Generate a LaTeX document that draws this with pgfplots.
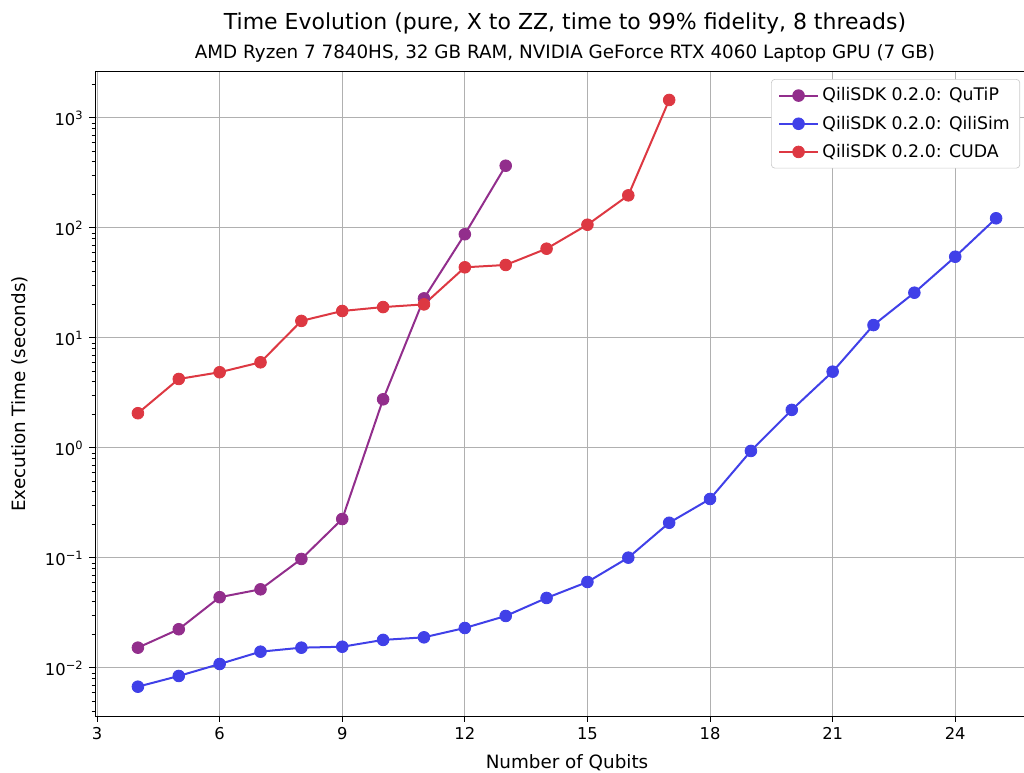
\documentclass[border=0pt]{standalone}
\usepackage{pgfplots}
\pgfplotsset{compat=1.18}
\usepackage{fontspec}
\setmainfont{DejaVu Sans}
\definecolor{cq}{RGB}{146,46,140}
\definecolor{cb}{RGB}{64,64,232}
\definecolor{cr}{RGB}{221,56,66}
\definecolor{gridc}{RGB}{176,176,176}
\definecolor{legc}{RGB}{204,204,204}

\begin{document}
\begin{tikzpicture}
\useasboundingbox (0,0) rectangle (614.4pt,463.2pt);
\begin{axis}[
  at={(57pt,33.6pt)}, anchor=south west,
  scale only axis, width=566.4pt, height=386.4pt,
  ymode=log,
  xmin=2.95, xmax=26.05, ymin=3.66e-3, ymax=2618,
  xtick={3,6,...,24},
  ytick={1e-2,1e-1,1,10,100,1000},
  yticklabels={10\textsuperscript{−2},10\textsuperscript{−1},10\textsuperscript{0},10\textsuperscript{1},10\textsuperscript{2},10\textsuperscript{3}},
  minor ytick={4e-3,5e-3,6e-3,7e-3,8e-3,9e-3,
    2e-2,3e-2,4e-2,5e-2,6e-2,7e-2,8e-2,9e-2,
    0.2,0.3,0.4,0.5,0.6,0.7,0.8,0.9,
    2,3,4,5,6,7,8,9,
    20,30,40,50,60,70,80,90,
    200,300,400,500,600,700,800,900,2000},
  grid=major,
  major grid style={gridc, line width=0.6pt},
  minor grid style={draw=none},
  tick align=outside, xtick pos=bottom, ytick pos=left,
  major tick length=3.4pt, minor tick length=2pt,
  every tick/.style={black, line width=0.6pt},
  axis line style={line width=0.6pt},
  ticklabel style={font=\fontsize{9.8}{11}\selectfont},
  /pgf/number format/assume math mode=true,
  xlabel={Number of Qubits},
  ylabel={Execution Time (seconds)},
  label style={font=\fontsize{11}{13}\selectfont},
  xlabel style={at={(axis description cs:0.5,-0.073)}, anchor=center},
  ylabel style={at={(axis description cs:-0.0795,0.5)}, anchor=center},
  legend style={at={(axis description cs:0.98,0.989)}, anchor=north east,
    draw=legc, rounded corners=2pt, fill=white,
    font=\fontsize{10.4}{12.5}\selectfont, row sep=3.5pt, inner xsep=4pt, inner ysep=3pt},
  legend cell align=left,
  legend image code/.code={\draw[mark repeat=2,mark phase=2] plot coordinates {(0pt,0pt)(11.7pt,0pt)(23.4pt,0pt)};},
  every axis plot/.append style={line width=1.2pt, mark=*, mark size=3.5pt, mark options={line width=0.5pt}},
]
\addplot[color=cq] coordinates {(4,0.0153)(5,0.0225)(6,0.0440)(7,0.0519)(8,0.098)(9,0.226)(10,2.77)(11,22.9)(12,87.7)(13,368)};
\addlegendentry{QiliSDK 0.2.0: QuTiP}
\addplot[color=cb] coordinates {(4,0.00676)(5,0.00846)(6,0.01087)(7,0.01407)(8,0.0153)(9,0.0156)(10,0.0180)(11,0.0190)(12,0.0231)(13,0.0297)(14,0.0433)(15,0.0605)(16,0.1007)(17,0.209)(18,0.344)(19,0.94)(20,2.22)(21,4.94)(22,13.1)(23,25.8)(24,54.8)(25,122.5)};
\addlegendentry{QiliSDK 0.2.0: QiliSim}
\addplot[color=cr] coordinates {(4,2.07)(5,4.24)(6,4.88)(7,6.01)(8,14.3)(9,17.6)(10,19.1)(11,20.2)(12,43.9)(13,46.1)(14,64.8)(15,107)(16,198)(17,1458)};
\addlegendentry{QiliSDK 0.2.0: CUDA}
\end{axis}
\node[font=\fontsize{13.2}{15}\selectfont, anchor=center] at (339pt,449pt) {Time Evolution (pure, X to ZZ, time to 99\% fidelity, 8 threads)};
\node[font=\fontsize{11}{13}\selectfont, anchor=center] at (339pt,431pt) {AMD Ryzen 7 7840HS, 32 GB RAM, NVIDIA GeForce RTX 4060 Laptop GPU (7 GB)};
\end{tikzpicture}
\end{document}
